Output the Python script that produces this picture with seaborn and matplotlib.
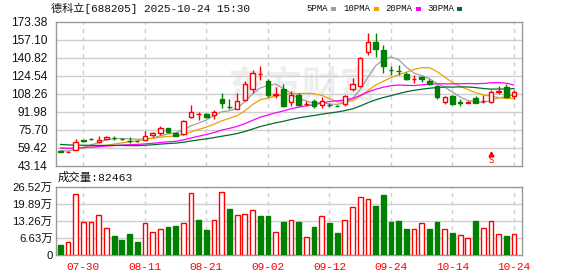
import numpy as np
import pandas as pd
import matplotlib
matplotlib.use('Agg')
import matplotlib.pyplot as plt
import seaborn as sns
from matplotlib.patches import Rectangle

# ---------------- data ----------------
dates = ['07-25', '07-28', '07-29', '07-30', '07-31', '08-01', '08-04', '08-05', '08-06', '08-07',
         '08-08', '08-11', '08-12', '08-13', '08-14', '08-15', '08-18', '08-19', '08-20', '08-21',
         '08-22', '08-25', '08-26', '08-27', '08-28', '08-29', '09-01', '09-02', '09-03', '09-04',
         '09-05', '09-08', '09-09', '09-10', '09-11', '09-12', '09-15', '09-16', '09-17', '09-18',
         '09-19', '09-22', '09-23', '09-24', '09-25', '09-26', '09-29', '09-30', '10-09', '10-10',
         '10-13', '10-14', '10-15', '10-16', '10-17', '10-20', '10-21', '10-22', '10-23', '10-24']

opens = [56.4, 56.0, 57.6, 66.2, 67.7, 65.1, 67.6, 68.6, 67.9, 65.5,
         65.5, 66.9, 70.8, 72.6, 77.7, 72.6, 72.0, 87.2, 89.7, 89.9,
         89.0, 103.6, 96.1, 94.9, 102.5, 112.8, 125.9, 119.7, 107.5, 112.7,
         100.9, 106.8, 98.8, 101.5, 98.3, 98.5, 97.6, 99.0, 112.5, 115.5,
         145.7, 154.6, 148.1, 129.5, 128.8, 125.7, 121.3, 123.0, 120.0, 115.2,
         100.7, 106.3, 100.5, 100.1, 104.8, 101.6, 101.0, 110.0, 114.6, 106.6]
highs = [56.6, 56.5, 67.8, 67.0, 68.3, 70.2, 70.5, 69.9, 68.8, 69.0,
         65.8, 75.0, 74.1, 79.2, 77.8, 73.8, 84.5, 98.3, 92.2, 90.5,
         93.8, 108.7, 103.6, 108.7, 120.0, 129.8, 132.9, 121.2, 114.6, 117.0,
         111.0, 108.5, 101.5, 103.5, 105.5, 100.0, 98.0, 107.5, 122.4, 141.5,
         162.6, 162.6, 152.2, 132.9, 134.0, 127.8, 124.8, 124.5, 121.2, 116.1,
         105.8, 107.2, 103.6, 101.5, 106.6, 106.8, 111.7, 115.2, 116.8, 111.7]
lows = [55.8, 55.9, 57.4, 65.0, 66.6, 64.3, 66.7, 66.9, 67.0, 63.9,
        65.0, 66.5, 69.4, 71.4, 72.6, 70.0, 71.5, 86.5, 84.6, 86.5,
        85.5, 95.3, 94.7, 94.5, 102.0, 108.7, 120.6, 105.7, 104.2, 96.0,
        97.5, 97.5, 97.5, 95.5, 95.6, 96.5, 97.0, 97.5, 110.5, 114.5,
        143.3, 141.8, 126.9, 125.3, 125.3, 121.0, 117.8, 119.0, 116.0, 103.6,
        98.9, 98.5, 97.4, 99.5, 99.5, 99.8, 100.0, 107.8, 105.5, 103.6]
closes = [56.0, 56.2, 64.9, 66.0, 67.5, 66.9, 69.4, 68.4, 67.8, 65.4,
          65.3, 70.5, 72.9, 77.4, 73.8, 70.3, 83.9, 91.4, 89.9, 87.2,
          91.4, 100.3, 95.9, 101.6, 116.8, 126.8, 126.2, 107.2, 107.9, 96.8,
          106.8, 98.3, 99.2, 97.0, 101.8, 98.2, 97.4, 105.8, 117.3, 140.9,
          154.6, 148.6, 133.7, 129.3, 128.6, 121.2, 121.5, 122.0, 116.6, 105.7,
          105.4, 98.9, 100.3, 100.6, 100.0, 101.9, 109.8, 110.3, 105.7, 109.6]
# closes of the 29 sessions before the window (estimated, only used by the moving averages)
prior_closes = [70.5, 70.0, 69.8, 69.5, 69.0, 68.8, 69.2, 68.5, 68.9, 68.0,
                60.0, 59.5, 59.0, 58.8, 59.2, 58.5, 59.0, 59.3, 58.9, 58.8,
                62.5, 62.0, 62.3, 61.8, 61.4, 58.0, 57.5, 57.0, 56.5]
volumes_wan = [3.84, 5.0, 23.7, 12.7, 12.7, 15.6, 10.6, 7.3, 5.8, 8.1,
               5.1, 12.2, 8.8, 10.2, 10.8, 11.1, 12.2, 24.1, 13.5, 9.6,
               13.7, 24.5, 17.7, 15.6, 16.0, 17.6, 15.0, 15.0, 8.8, 12.7,
               13.7, 12.7, 6.8, 10.8, 15.2, 12.3, 8.5, 13.7, 18.7, 22.5,
               21.8, 18.8, 23.4, 12.7, 13.1, 9.9, 10.2, 12.2, 9.9, 12.7,
               9.9, 8.5, 7.6, 6.4, 13.1, 10.6, 13.3, 8.3, 7.2, 8.2463]
vol_up = [0, 1, 1, 1, 1, 1, 1, 0, 0, 0,
          0, 1, 1, 1, 0, 0, 1, 1, 0, 0,
          1, 1, 0, 1, 1, 1, 0, 0, 1, 0,
          1, 0, 1, 0, 1, 0, 0, 1, 1, 1,
          1, 0, 0, 0, 0, 0, 1, 1, 0, 0,
          1, 0, 1, 1, 0, 1, 1, 1, 0, 1]
ma_windows = [5, 10, 20, 30]
ma_names = ['5PMA', '10PMA', '20PMA', '30PMA']
ma_colors = ['#a0a0a0', '#f0a000', '#ff00ff', '#006d2c']
price_ticks = [43.14, 59.42, 75.70, 91.98, 108.26, 124.54, 140.82, 157.10, 173.38]
vol_ticks = [0, 6.63, 13.26, 19.89, 26.52]
label_start, label_step = 3, 8
title_text = '德科立[688205] 2025-10-24 15:30'
volume_title = '成交量:82463'
signal_index = 56
signal_price = 52.5

RED = '#ff0000'
GREEN = '#008000'
GRID = '#cfcfcf'
SPINE = '#999999'

# ---------------- figure ----------------
sns.set_theme(style='white')
plt.rcParams['font.family'] = ['Liberation Sans', 'Noto Sans CJK SC', 'DejaVu Sans']

W, H = 578, 276
fig = plt.figure(figsize=(W / 100, H / 100), dpi=100)
fig.patch.set_facecolor('white')


def rect(l, t, r, b):
    return [l / W, 1 - b / H, (r - l) / W, (b - t) / H]


axp = fig.add_axes(rect(56, 21.5, 522, 166))
axv = fig.add_axes(rect(56, 186.5, 522, 255))

n = len(closes)
x = np.arange(n)
o = np.array(opens)
h = np.array(highs)
l = np.array(lows)
c = np.array(closes)
v = np.array(volumes_wan)
vu = np.array(vol_up, dtype=bool)

# watermark
axp.text(0.53, 0.55, '东方财富', transform=axp.transAxes, fontsize=27,
         color='#eeeeee', ha='center', va='center', zorder=0,
         family=['Noto Sans CJK SC'], fontweight='bold')

# grid
for ax in (axp, axv):
    for t in x[label_start::label_step]:
        ax.axvline(t, color=GRID, lw=1, ls=(0, (3, 3)), zorder=1)
for t in price_ticks[1:-1]:
    axp.axhline(t, color=GRID, lw=1, zorder=1)
for t in vol_ticks[1:-1]:
    axv.axhline(t, color=GRID, lw=1, zorder=1)

# moving averages (through seaborn)
full = pd.Series(prior_closes + closes)
rows = []
for w, name in zip(ma_windows, ma_names):
    ma = full.rolling(w).mean().to_numpy()[-n:]
    rows.append(pd.DataFrame({'x': x, 'ma': ma, 'name': name}))
ma_df = pd.concat(rows, ignore_index=True)
sns.lineplot(data=ma_df, x='x', y='ma', hue='name', hue_order=ma_names,
             palette=dict(zip(ma_names, ma_colors)), linewidth=0.9,
             legend=False, ax=axp, zorder=3)

# candles
up = c > o
body_lo = np.minimum(o, c)
body_hi = np.maximum(o, c)
bh = np.maximum(body_hi - body_lo, 0.05)
colors = np.where(up, RED, GREEN)
axp.vlines(x, h, body_hi, colors=colors, lw=1, zorder=4)
axp.vlines(x, body_lo, l, colors=colors, lw=1, zorder=4)
axp.bar(x[up], bh[up], bottom=body_lo[up], width=0.58, facecolor='white',
        edgecolor=RED, linewidth=1, zorder=5)
axp.bar(x[~up], bh[~up], bottom=body_lo[~up], width=0.58, facecolor=GREEN,
        edgecolor=GREEN, linewidth=1, zorder=5)

# signal mark
axp.plot([signal_index], [signal_price + 1.8], marker='^', ms=3.5, color=RED,
         zorder=6, clip_on=False)
axp.text(signal_index, signal_price - 0.6, 'S', color=RED, fontsize=6,
         ha='center', va='top', zorder=6, family=['DejaVu Sans'])

# volume
axv.bar(x[vu], v[vu], width=0.62, facecolor='white', edgecolor=RED,
        linewidth=1, zorder=3)
axv.bar(x[~vu], v[~vu], width=0.62, facecolor=GREEN, edgecolor=GREEN,
        linewidth=1, zorder=3)

# axes styling
for ax in (axp, axv):
    ax.set_xlim(-0.56, n + 0.04)
    for s in ax.spines.values():
        s.set_color(SPINE)
        s.set_linewidth(1)
    ax.set_xlabel('')
    ax.set_ylabel('')
    ax.tick_params(length=0)

axp.set_ylim(price_ticks[0], price_ticks[-1])
axp.set_yticks(price_ticks)
axp.set_yticklabels([f'{t:.2f}' for t in price_ticks], fontsize=8.6, color='#111111')
axp.tick_params(axis='y', pad=6)
axp.set_xticks([])

axv.set_ylim(vol_ticks[0], vol_ticks[-1])
axv.set_yticks(vol_ticks)
axv.set_yticklabels(['0' if t == 0 else f'{t:.2f}万' for t in vol_ticks],
                    fontsize=8.2, color='#111111')
axv.tick_params(axis='y', pad=2.5)
axv.set_xticks(x[label_start::label_step])
axv.set_xticklabels(dates[label_start::label_step], color=RED, fontsize=8,
                    family=['Liberation Mono'])
axv.tick_params(axis='x', pad=5)

# header texts
fig.text(51 / W, 1 - 8.5 / H, title_text, ha='left', va='center', fontsize=8,
         family=['Liberation Mono', 'Noto Sans CJK SC'], color='#111111')
fig.text(58 / W, 1 - 177 / H, volume_title, ha='left', va='center', fontsize=8.2,
         family=['Liberation Mono', 'Noto Sans CJK SC'], color='#111111')

legend_x = [306, 343, 385, 427]
square_x = [331, 374, 416, 457]
for name, col, tx, sx in zip(ma_names, ma_colors, legend_x, square_x):
    fig.text(tx / W, 1 - 8.5 / H, name, ha='left', va='center', fontsize=6.5,
             family=['Liberation Mono'], color='#111111')
    fig.patches.append(Rectangle((sx / W, 1 - 10.8 / H), 5 / W, 3.6 / H,
                                 transform=fig.transFigure, facecolor=col,
                                 edgecolor='none'))

fig.savefig('out.png', dpi=100)
